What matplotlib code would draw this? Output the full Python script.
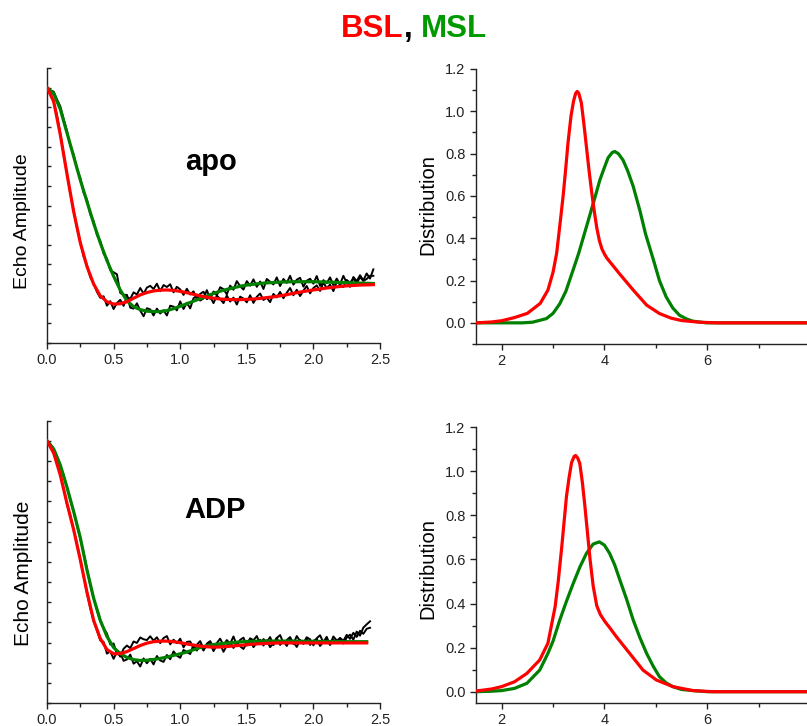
import numpy as np
import matplotlib
matplotlib.use('Agg')
import matplotlib.pyplot as plt
from matplotlib.ticker import MultipleLocator, FixedLocator

plt.rcParams['font.family'] = ['Liberation Sans', 'DejaVu Sans']

RED = '#ff0000'
GREEN = '#008000'

# echo decay, fitted curves (read every 0.05)
t_fit_apo = np.arange(0, 2.451, 0.05)
t_fit_adp = np.arange(0, 2.401, 0.05)

apo_msl_fit = [1.0, .97, .89, .77, .65, .53, .42, .31, .21, .12, .04, -.03, -.085, -.115, -.13,
               -.138, -.14, -.14, -.135, -.125, -.113, -.10, -.087, -.074, -.061, -.048, -.036,
               -.027, -.019, -.011, -.005, -.001, .003, .006, .008, .01, .011, .012, .012, .012,
               .012, .011, .01, .009, .008, .007, .006, .005, .004, .003]
apo_bsl_fit = [1.0, .93, .76, .56, .37, .21, .09, .0, -.06, -.09, -.102, -.1, -.09, -.072, -.055,
               -.043, -.035, -.031, -.03, -.032, -.037, -.044, -.052, -.06, -.067, -.072, -.076,
               -.078, -.079, -.079, -.078, -.076, -.073, -.069, -.065, -.06, -.054, -.047, -.041,
               -.035, -.03, -.025, -.02, -.016, -.012, -.009, -.007, -.005, -.004, -.003]
adp_msl_fit = [1.0, .96, .88, .77, .65, .52, .36, .22, .11, .03, -.025, -.055, -.074, -.085, -.089,
               -.088, -.084, -.079, -.072, -.064, -.056, -.047, -.036, -.025, -.016, -.01, -.006,
               -.003, .0, .003, .005, .006, .007, .007, .007, .007, .007, .007, .006, .006, .006,
               .005, .005, .005, .005, .004, .004, .004, .004]
adp_bsl_fit = [1.0, .94, .83, .69, .56, .41, .25, .11, .02, -.035, -.056, -.055, -.045, -.03, -.015,
               -.003, .004, .007, .007, .004, -.001, -.007, -.013, -.018, -.021, -.023, -.022,
               -.02, -.017, -.014, -.011, -.008, -.006, -.004, -.003, -.002, -.002, -.002, -.002,
               -.002, -.002, -.002, -.002, -.002, -.002, -.002, -.002, -.002, -.002]

# echo decay, raw traces (every 0.025)
t_data_apo = np.arange(0, 2.451, 0.025)
t_data_adp = np.arange(0, 2.426, 0.025)

apo_msl_data = [1.0, .985, .98, .94, .905, .84, .78, .705, .66, .585, .54, .465, .43, .355, .32,
                .25, .22, .155, .13, .07,
                .06, .05, -.045, -.055, -.055, -.12, -.125, -.098, -.135, -.164,
                -.123, -.129, -.16, -.125, -.15, -.133, -.16, -.11, -.115, -.134,
                -.088, -.127, -.095, -.124, -.072, -.06, -.084, -.073, -.031, -.075,
                -.038, -.057, -.016, -.026, -.052, -.008, -.029, .015, -.011, -.028,
                .015, -.008, .024, -.014, .013, -.025, .026, .012, -.002, .034,
                -.01, .026, .006, .042, -.003, .022, .032, -.013, .017, .027,
                .002, .041, -.009, .02, .005, .034, -.006, .028, -.002, .042,
                .007, -.014, .036, .015, .045, .019, .054, .028, .075]
apo_bsl_data = [.99, .975, .93, .86, .765, .66, .565, .46, .375, .285, .215, .14, .095, .035, .005,
                -.04, -.07, -.062, -.11, -.087,
                -.127, -.097, -.08, -.111, -.065, -.076, -.042, -.053, -.02, -.049,
                -.018, -.009, -.025, .002, -.036, -.005, -.015, -.001, -.042, -.014,
                -.027, -.055, -.024, -.053, -.037, -.076, -.05, -.039, -.077, -.065,
                -.097, -.059, -.076, -.097, -.058, -.089, -.069, -.104, -.064, -.074,
                -.093, -.057, -.096, -.065, -.048, -.081, -.069, -.092, -.05, -.068,
                -.04, -.072, -.044, -.02, -.057, -.029, -.061, -.033, -.01, -.047,
                -.02, -.007, -.035, .008, -.02, -.003, -.036, .011, -.002, -.015,
                .021, .007, .028, .004, .035, .016, .026, .042, .042]
adp_msl_data = [1.0, .985, .96, .925, .875, .83, .77, .705, .65, .58, .515, .445, .365, .285, .22,
                .16, .105, .07, .045, -.01,
                -.005, -.057, -.05, -.091, -.084, -.06, -.105, -.093, -.119, -.079,
                -.103, -.081, -.109, -.067, -.089, -.096, -.062, -.083, -.044, -.065,
                -.076, -.037, -.047, -.057, -.011, -.04, -.01, -.04, -.006, .007,
                -.025, -.003, .019, -.014, .012, -.006, .03, -.014, .013, .024,
                -.015, .021, .011, .032, -.008, .017, .002, .027, -.013, .022,
                .037, -.003, .012, .027, -.008, .032, .007, -.004, .026, .016,
                -.014, .021, .036, .0, .015, -.01, .03, .01, .02, -.005,
                .024, .039, .014, .054, .034, .074, .09, .105]
adp_bsl_data = [.99, .975, .94, .89, .83, .765, .685, .63, .56, .49, .41, .33, .245, .17, .105,
                .06, .01, .003, -.055, -.044,
                -.081, -.047, -.07, -.031, -.015, -.028, .005, -.002, .025, .016,
                .012, .031, .009, .026, -.003, .022, .032, -.009, .014, -.003,
                .019, -.024, .003, .005, -.028, -.011, .007, -.03, -.021, -.002,
                -.043, -.013, -.007, -.046, -.015, .001, -.027, -.001, -.019, -.032,
                -.001, .016, -.023, -.002, .014, -.015, .011, -.023, -.003, .023,
                -.012, .008, -.017, .018, .003, -.022, .013, -.007, .023, -.012,
                .008, .018, -.017, .003, .028, -.012, .013, -.002, .023, .008,
                .038, .018, .048, .028, .058, .043, .068, .073]

# distance distributions
r_apo_bsl = [1.5, 1.8, 2.0, 2.25, 2.5, 2.75, 2.9, 3.0, 3.07, 3.15, 3.2, 3.25, 3.29, 3.35, 3.4, 3.44,
             3.47, 3.5, 3.55, 3.6, 3.65, 3.7, 3.75, 3.8, 3.85, 3.9, 3.95, 4.0, 4.05, 4.1, 4.2, 4.3,
             4.56, 4.82, 5.07, 5.3, 5.5, 5.85, 6.2, 8.0]
p_apo_bsl = [0.0, .004, .01, .025, .045, .092, .155, .24, .33, .5, .61, .74, .85, .98, 1.05, 1.085,
             1.094, 1.085, 1.04, .94, .83, .72, .62, .53, .45, .39, .35, .325, .305, .29, .26, .23,
             .155, .084, .044, .022, .011, .003, 0.0, 0.0]
r_apo_msl = [1.5, 2.4, 2.6, 2.87, 3.0, 3.13, 3.25, 3.39, 3.5, 3.65, 3.8, 3.91, 4.0, 4.07, 4.15, 4.2,
             4.27, 4.36, 4.45, 4.56, 4.69, 4.8, 4.95, 5.07, 5.2, 5.33, 5.46, 5.6, 5.72, 5.98, 8.0]
p_apo_msl = [0.0, 0.0, .003, .02, .045, .09, .15, .25, .33, .455, .58, .675, .735, .78, .805, .81,
             .8, .77, .72, .645, .53, .42, .30, .2, .123, .07, .036, .018, .008, 0.0, 0.0]
r_adp_bsl = [1.5, 1.8, 2.0, 2.25, 2.49, 2.74, 2.9, 3.04, 3.1, 3.17, 3.26, 3.31, 3.36, 3.41, 3.44,
             3.48, 3.52, 3.57, 3.62, 3.67, 3.72, 3.78, 3.85, 3.92, 4.01, 4.12, 4.23, 4.49, 4.75,
             5.01, 5.33, 5.72, 6.1, 8.0]
p_adp_bsl = [.003, .012, .023, .045, .083, .144, .22, .386, .5, .66, .885, .97, 1.04, 1.068, 1.072,
             1.06, 1.036, .95, .84, .72, .60, .48, .39, .35, .318, .285, .25, .174, .098, .053,
             .023, .005, 0.0, 0.0]
r_adp_msl = [1.5, 1.8, 2.0, 2.25, 2.49, 2.74, 2.9, 3.0, 3.13, 3.26, 3.39, 3.52, 3.65, 3.78, 3.9,
             4.0, 4.1, 4.2, 4.3, 4.43, 4.56, 4.69, 4.82, 4.95, 5.07, 5.2, 5.33, 5.5, 5.72, 6.0, 8.0]
p_adp_msl = [0.0, .002, .005, .015, .038, .098, .174, .23, .325, .41, .49, .565, .628, .67, .68,
             .665, .628, .575, .507, .42, .325, .245, .174, .115, .068, .04, .023, .01, .005, 0.0,
             0.0]

W, H = 807, 726
fig = plt.figure(figsize=(W / 100, H / 100), dpi=100)


def px_axes(x0, y0, x1, y1):
    # pixel box (left, top, right, bottom) -> figure fractions
    return fig.add_axes([x0 / W, 1 - y1 / H, (x1 - x0) / W, (y1 - y0) / H])


def style(ax):
    for s in ['top', 'right']:
        ax.spines[s].set_visible(False)
    for s in ['left', 'bottom']:
        ax.spines[s].set_linewidth(1.0)
        ax.spines[s].set_color('#222222')
    ax.tick_params(which='both', colors='#222222', labelsize=10.5, width=1.0)
    ax.tick_params(which='major', length=4)
    ax.tick_params(which='minor', length=3)


def echo_panel(ax, t_fit, msl_fit, bsl_fit, t_data, msl_data, bsl_data):
    ax.plot(t_data, msl_data, color='black', lw=1.4, zorder=1)
    ax.plot(t_data, bsl_data, color='black', lw=1.4, zorder=1)
    ax.plot(t_fit, msl_fit, color=GREEN, lw=2.3, zorder=2)
    ax.plot(t_fit, bsl_fit, color=RED, lw=2.3, zorder=3)
    ax.set_xlim(0, 2.5)
    ax.set_ylim(-0.3, 1.1)
    style(ax)
    ax.xaxis.set_major_locator(MultipleLocator(0.5))
    ax.xaxis.set_minor_locator(MultipleLocator(0.25))
    ax.xaxis.set_major_formatter(plt.FormatStrFormatter('%.1f'))
    ax.yaxis.set_major_locator(MultipleLocator(0.1))
    ax.tick_params(axis='y', which='both', direction='in', length=3, labelleft=False)


def dist_panel(ax, r_msl, p_msl, r_bsl, p_bsl, ylo):
    ax.plot(r_msl, p_msl, color=GREEN, lw=2.3, zorder=2)
    ax.plot(r_bsl, p_bsl, color=RED, lw=2.3, zorder=3)
    ax.set_xlim(1.5, 8)
    ax.set_ylim(ylo, 1.2)
    style(ax)
    ax.xaxis.set_major_locator(FixedLocator([2, 4, 6]))
    ax.xaxis.set_minor_locator(FixedLocator([3, 5, 7]))
    ax.yaxis.set_major_locator(MultipleLocator(0.2))
    ax.yaxis.set_minor_locator(MultipleLocator(0.1))
    ax.yaxis.set_major_formatter(plt.FormatStrFormatter('%.1f'))


ax1 = px_axes(47, 68, 380, 343)
echo_panel(ax1, t_fit_apo, apo_msl_fit, apo_bsl_fit, t_data_apo, apo_msl_data, apo_bsl_data)
ax2 = px_axes(476, 69, 810, 344)
dist_panel(ax2, r_apo_msl, p_apo_msl, r_apo_bsl, p_apo_bsl, -0.1)
ax3 = px_axes(47, 420.7, 380, 703)
echo_panel(ax3, t_fit_adp, adp_msl_fit, adp_bsl_fit, t_data_adp, adp_msl_data, adp_bsl_data)
ax4 = px_axes(476, 427.3, 810, 702.7)
dist_panel(ax4, r_adp_msl, p_adp_msl, r_adp_bsl, p_adp_bsl, -0.05)

# panel labels
fig.text(211 / W, 1 - 170 / H, 'apo', fontsize=21, fontweight='bold', ha='center', va='baseline')
fig.text(215 / W, 1 - 518 / H, 'ADP', fontsize=21, fontweight='bold', ha='center', va='baseline')

# axis titles
fig.text(23 / W, 1 - 221 / H, 'Echo Amplitude', fontsize=14, rotation=90, ha='center', va='center')
fig.text(24 / W, 1 - 573 / H, 'Echo Amplitude', fontsize=15, rotation=90, ha='center', va='center')
fig.text(428 / W, 1 - 205 / H, 'Distribution', fontsize=14.5, rotation=90, ha='center', va='center')
fig.text(428 / W, 1 - 569 / H, 'Distribution', fontsize=14.5, rotation=90, ha='center', va='center')

# title in three colours
ty = 1 - 37 / H
fig.text(403 / W, ty, 'BSL', color=RED, fontsize=22.5, fontweight='bold', ha='right', va='baseline')
fig.text(404 / W, ty, ',', color='black', fontsize=22.5, fontweight='bold', ha='left', va='baseline')
fig.text(421 / W, ty, 'MSL', color='#009a00', fontsize=22.5, fontweight='bold', ha='left', va='baseline')

fig.savefig('out.png', dpi=100)
